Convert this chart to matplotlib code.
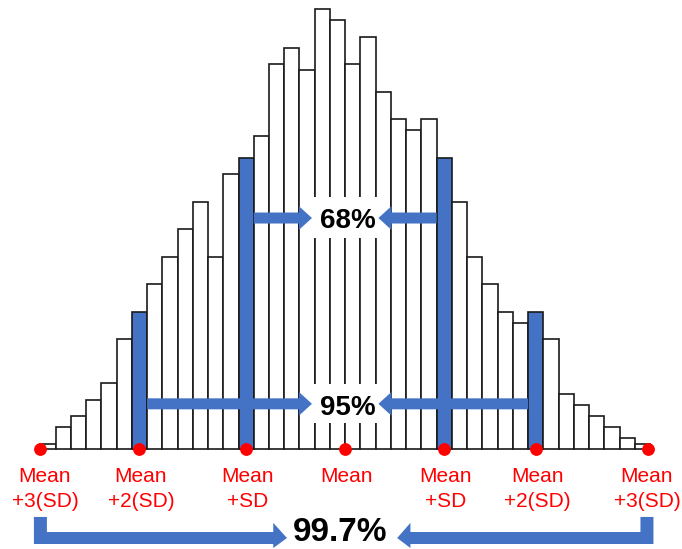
import matplotlib
matplotlib.use("Agg")
import matplotlib.pyplot as plt
from matplotlib.patches import Polygon, Rectangle

plt.rcParams['font.family'] = ['Liberation Sans', 'DejaVu Sans']

# ---- data ----
counts = [1, 4, 6, 9, 12, 20, 25, 30, 35, 40,
          45, 35, 50, 53, 57, 70, 73, 69, 80, 78,
          70, 75, 65, 60, 58, 60, 53, 45, 35, 30,
          25, 23, 25, 20, 10, 8, 6, 4, 2, 1]
highlight_bars = [6, 13, 26, 32]          # 0-based index of blue bars
marker_x = [0, 6.5, 13.5, 20, 26.5, 32.5, 39.85]
marker_labels = ["Mean\n+3(SD)", "Mean\n+2(SD)", "Mean\n+SD", "Mean",
                 "Mean\n+SD", "Mean\n+2(SD)", "Mean\n+3(SD)"]
pct_labels = ["68%", "95%", "99.7%"]

BLUE = "#4472C4"
RED = "#FF0000"

fig = plt.figure(figsize=(6.82, 5.49), dpi=100)
ax = fig.add_axes([0, 0, 1, 1])
ax.set_xlim(-2.651, 42.10)
ax.set_ylim(-18.127, 81.69)
ax.axis('off')

# bars
colors = [BLUE if i in highlight_bars else "white" for i in range(len(counts))]
ax.bar(range(len(counts)), counts, width=1.0, align='edge', color=colors,
       edgecolor="#1a1a1a", linewidth=1.2, zorder=2)

# red dots
ax.plot(marker_x, [0] * len(marker_x), 'o', color=RED, markersize=8.2,
        zorder=6, clip_on=False)

# labels under dots
for i, (x, lab) in enumerate(zip(marker_x, marker_labels)):
    lines = lab.split("\n")
    if i == 0:
        lx = 0.3
    elif i == len(marker_x) - 1:
        lx = x - 0.05
    else:
        lx = x + 0.1
    ax.text(lx, -5.95, lines[0], ha='center', va='baseline', color=RED,
            fontsize=15, zorder=6)
    if len(lines) > 1:
        ax.text(lx, -10.55, lines[1], ha='center', va='baseline', color=RED,
                fontsize=15, zorder=6)


def harrow(x_start, x_tip, y, half_w, half_h, head_len):
    d = 1 if x_tip > x_start else -1
    base = x_tip - d * head_len
    pts = [(x_start, y - half_w), (base, y - half_w), (base, y - half_h),
           (x_tip, y), (base, y + half_h), (base, y + half_w),
           (x_start, y + half_w)]
    ax.add_patch(Polygon(pts, closed=True, facecolor=BLUE, edgecolor='none',
                         zorder=5))


center = marker_x[3]
gap = 2.18
hl = 0.853

# 68% and 95% white boxes + arrows + text
for (y, ylo, yhi, xl, xr, txt, ybase) in [
        (42.05, 38.5, 45.9, 14, 26, pct_labels[0], 40.24),
        (8.27, 4.84, 11.87, 7, 32, pct_labels[1], 6.24)]:
    ax.add_patch(Rectangle((center - gap, ylo), 2 * gap, yhi - ylo,
                           facecolor='white', edgecolor='none', zorder=4))
    harrow(xl, center - gap, y, 1.0, 2.15, hl)
    harrow(xr, center + gap, y, 1.0, 2.15, hl)
    ax.text(center + 0.18, ybase, txt, ha='center', va='baseline',
            fontsize=20, fontweight='bold', color='black', zorder=6)


# 99.7% bent arrows
def larrow(x0, x_tip, x_base, top, shaft_top, shaft_bot, head_top, head_bot):
    hw = 0.4265
    d = 1 if x_tip > x0 else -1
    outer = x0 - d * hw
    inner = x0 + d * hw
    ymid = (shaft_top + shaft_bot) / 2
    pts = [(outer, top), (inner, top), (inner, shaft_top), (x_base, shaft_top),
           (x_base, head_top), (x_tip, ymid), (x_base, head_bot),
           (x_base, shaft_bot), (outer, shaft_bot)]
    ax.add_patch(Polygon(pts, closed=True, facecolor=BLUE, edgecolor='none',
                         zorder=5, clip_on=False))


larrow(marker_x[0], 16.18, 15.28, -12.3, -15.04, -17.22, -13.38, -17.95)
larrow(marker_x[-1] - 0.05, 23.41, 24.28, -12.3, -15.04, -17.22, -13.38, -17.95)
ax.text(19.68, -16.75, pct_labels[2], ha='center', va='baseline',
        fontsize=24, fontweight='bold', color='black', zorder=6, clip_on=False)

fig.savefig("out.png", dpi=100)
